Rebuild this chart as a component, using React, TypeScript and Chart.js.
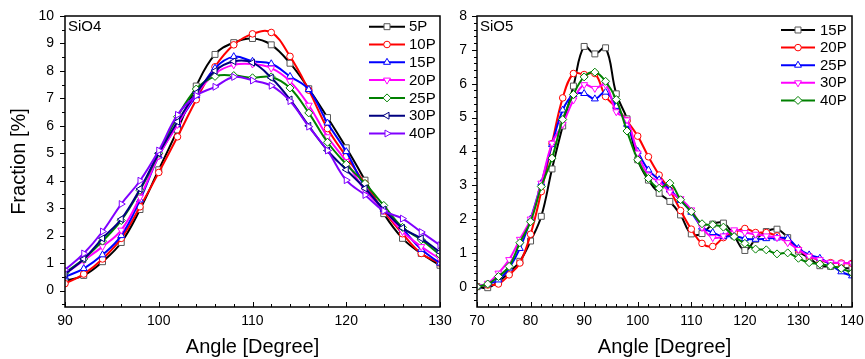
import React, { useEffect, useRef } from 'react';
import { Chart, registerables } from 'chart.js';

Chart.register(...registerables);

const FONT = "'Liberation Sans', Arial, Helvetica, sans-serif";

// ---------------- SiO4 panel data ----------------
const angles4 = [90, 92, 94, 96, 98, 100, 102, 104, 106, 108, 110, 112, 114, 116, 118, 120, 122, 124, 126, 128, 130];
const sio4_5P = [0.35, 0.55, 1.05, 1.75, 2.95, 4.4, 5.85, 7.45, 8.6, 9.03, 9.18, 8.95, 8.28, 7.35, 6.3, 5.2, 4.02, 2.8, 1.9, 1.35, 0.92];
const sio4_10P = [0.25, 0.6, 1.15, 1.9, 3.05, 4.3, 5.6, 6.95, 8.15, 8.95, 9.35, 9.4, 8.53, 7.3, 5.9, 4.88, 3.9, 2.9, 2.07, 1.35, 1.0];
const sio4_15P = [0.5, 0.8, 1.3, 2.0, 3.3, 4.9, 6.05, 7.1, 8.1, 8.52, 8.35, 8.26, 7.8, 7.32, 6.1, 5.06, 3.78, 2.95, 2.25, 1.5, 1.0];
const sio4_20P = [0.6, 1.1, 1.6, 2.2, 3.4, 4.9, 6.05, 7.15, 7.9, 8.22, 8.25, 8.1, 7.62, 6.75, 5.6, 4.7, 3.65, 2.95, 2.15, 1.6, 1.15];
const sio4_25P = [0.65, 1.15, 1.8, 2.55, 3.65, 5.0, 6.33, 7.34, 7.8, 7.83, 7.75, 7.78, 7.38, 6.47, 5.4, 4.6, 3.9, 3.1, 2.3, 1.85, 1.3];
const sio4_30P = [0.6, 1.15, 1.9, 2.6, 3.7, 5.0, 6.15, 7.2, 8.0, 8.35, 8.3, 7.75, 6.96, 6.0, 5.1, 4.4, 3.72, 2.95, 2.28, 1.9, 1.4];
const sio4_40P = [0.75, 1.35, 2.15, 3.15, 4.0, 5.1, 6.4, 7.1, 7.42, 7.78, 7.65, 7.46, 6.9, 5.97, 5.1, 4.02, 3.48, 2.9, 2.62, 2.13, 1.65];
const xTicks4 = [90, 100, 110, 120, 130];
const yTicks4 = [0, 1, 2, 3, 4, 5, 6, 7, 8, 9, 10];

// ---------------- SiO5 panel data ----------------
const angles5 = [70, 72, 74, 76, 78, 80, 82, 84, 86, 88, 90, 92, 94, 96, 98, 100, 102, 104, 106, 108, 110, 112, 114, 116, 118, 120, 122, 124, 126, 128, 130, 132, 134, 136, 138, 140];
const sio5_15P = [0.0, -0.03, 0.15, 0.42, 0.75, 1.35, 2.08, 3.48, 4.75, 5.93, 7.1, 6.88, 7.06, 5.7, 4.96, 3.75, 3.15, 2.76, 2.52, 2.12, 1.56, 1.57, 1.85, 1.88, 1.5, 1.07, 1.4, 1.63, 1.7, 1.45, 1.05, 0.85, 0.62, 0.6, 0.55, 0.55];
const sio5_20P = [0.0, 0.05, 0.08, 0.35, 0.7, 1.55, 2.81, 4.23, 5.58, 6.3, 6.27, 6.3, 5.62, 5.3, 4.9, 4.45, 3.84, 3.3, 2.85, 2.25, 1.7, 1.28, 1.19, 1.45, 1.6, 1.72, 1.6, 1.6, 1.5, 1.35, 1.1, 0.9, 0.78, 0.71, 0.7, 0.69];
const sio5_25P = [0.0, 0.08, 0.2, 0.55, 1.13, 2.0, 3.06, 4.2, 5.22, 5.68, 5.71, 5.55, 5.75, 5.33, 4.8, 4.0, 3.45, 3.16, 2.86, 2.55, 2.2, 1.76, 1.6, 1.48, 1.5, 1.42, 1.4, 1.42, 1.44, 1.42, 1.13, 0.94, 0.84, 0.65, 0.44, 0.32];
const sio5_30P = [0.0, 0.1, 0.4, 0.8, 1.4, 2.0, 3.06, 4.24, 4.8, 5.52, 5.97, 5.86, 5.97, 5.17, 4.93, 3.95, 3.3, 3.1, 2.8, 2.6, 2.27, 1.75, 1.45, 1.5, 1.68, 1.6, 1.55, 1.5, 1.45, 1.3, 1.1, 0.9, 0.8, 0.72, 0.7, 0.69];
const sio5_40P = [0.0, 0.08, 0.3, 0.6, 1.3, 1.92, 2.96, 3.8, 4.94, 5.68, 6.2, 6.34, 6.07, 5.53, 4.6, 3.75, 3.2, 2.91, 3.06, 2.57, 2.22, 1.86, 1.83, 1.76, 1.48, 1.28, 1.11, 1.09, 0.97, 1.0, 0.84, 0.71, 0.67, 0.61, 0.54, 0.41];
const xTicks5 = [70, 80, 90, 100, 110, 120, 130, 140];
const yTicks5 = [0, 1, 2, 3, 4, 5, 6, 7, 8];

// ---------------- styles ----------------
type Mk = { marker: string; rotation: number; radius: number };
const SQUARE: Mk = { marker: 'rect', rotation: 0, radius: 4.2 };
const CIRCLE: Mk = { marker: 'circle', rotation: 0, radius: 3.3 };
const TRI_UP: Mk = { marker: 'triangle', rotation: 0, radius: 4 };
const TRI_DOWN: Mk = { marker: 'triangle', rotation: 180, radius: 4 };
const DIAMOND: Mk = { marker: 'rectRot', rotation: 0, radius: 4 };
const TRI_LEFT: Mk = { marker: 'triangle', rotation: 270, radius: 4 };
const TRI_RIGHT: Mk = { marker: 'triangle', rotation: 90, radius: 4 };

type Series = { label: string; data: number[]; color: string; mk: Mk };

const series4: Series[] = [
  { label: '5P', data: sio4_5P, color: '#000000', mk: SQUARE },
  { label: '10P', data: sio4_10P, color: '#ff0000', mk: CIRCLE },
  { label: '15P', data: sio4_15P, color: '#0000ff', mk: TRI_UP },
  { label: '20P', data: sio4_20P, color: '#ff00ff', mk: TRI_DOWN },
  { label: '25P', data: sio4_25P, color: '#008000', mk: DIAMOND },
  { label: '30P', data: sio4_30P, color: '#000080', mk: TRI_LEFT },
  { label: '40P', data: sio4_40P, color: '#8000ff', mk: TRI_RIGHT },
];

const series5: Series[] = [
  { label: '15P', data: sio5_15P, color: '#000000', mk: SQUARE },
  { label: '20P', data: sio5_20P, color: '#ff0000', mk: CIRCLE },
  { label: '25P', data: sio5_25P, color: '#0000ff', mk: TRI_UP },
  { label: '30P', data: sio5_30P, color: '#ff00ff', mk: TRI_DOWN },
  { label: '40P', data: sio5_40P, color: '#008000', mk: DIAMOND },
];

function markerColor(c: string) {
  return c === '#000000' ? '#555555' : c;
}

function drawMarker(ctx: CanvasRenderingContext2D, mk: Mk, x: number, y: number) {
  const r = mk.radius;
  ctx.beginPath();
  if (mk.marker === 'rect') {
    const s = r * Math.SQRT1_2;
    ctx.rect(x - s, y - s, 2 * s, 2 * s);
  } else if (mk.marker === 'circle') {
    ctx.arc(x, y, r, 0, Math.PI * 2);
  } else if (mk.marker === 'rectRot') {
    ctx.moveTo(x, y - r);
    ctx.lineTo(x + r, y);
    ctx.lineTo(x, y + r);
    ctx.lineTo(x - r, y);
    ctx.closePath();
  } else {
    let rad = (mk.rotation * Math.PI) / 180;
    ctx.moveTo(x + Math.sin(rad) * r, y - Math.cos(rad) * r);
    rad += (2 * Math.PI) / 3;
    ctx.lineTo(x + Math.sin(rad) * r, y - Math.cos(rad) * r);
    rad += (2 * Math.PI) / 3;
    ctx.lineTo(x + Math.sin(rad) * r, y - Math.cos(rad) * r);
    ctx.closePath();
  }
  ctx.fillStyle = '#ffffff';
  ctx.fill();
  ctx.stroke();
}

type PanelCfg = {
  width: number;
  height: number;
  left: number;
  xs: number[];
  series: Series[];
  xMin: number;
  xMax: number;
  yMin: number;
  yMax: number;
  xTicks: number[];
  yTicks: number[];
  xMinorStep: number;
  yMinorStep: number;
  axisWidth: number;
  padRight: number;
  yTitle: string | null;
  tag: string;
  legend: { x0: number; x1: number; tx: number; y0: number; dy: number };
};

function makeDecor(cfg: PanelCfg) {
  return {
    id: 'panelDecor',
    afterDraw(chart: any) {
      const ctx: CanvasRenderingContext2D = chart.ctx;
      const { left, top, right, bottom } = chart.chartArea;
      const xs = chart.scales.x;
      const ys = chart.scales.y;
      ctx.save();
      ctx.strokeStyle = '#000';
      ctx.lineWidth = 1;
      ctx.beginPath();
      // x ticks (inward)
      const nx = Math.round((cfg.xMax - cfg.xMin) / cfg.xMinorStep);
      for (let i = 0; i <= nx; i++) {
        const v = cfg.xMin + i * cfg.xMinorStep;
        const major = cfg.xTicks.some((t) => Math.abs(t - v) < 1e-6);
        const px = Math.round(xs.getPixelForValue(v)) + 0.5;
        ctx.moveTo(px, bottom);
        ctx.lineTo(px, bottom - (major ? 5 : 3));
      }
      // y ticks (outward)
      const y0 = cfg.yTicks[0] - cfg.yMinorStep * Math.floor((cfg.yTicks[0] - cfg.yMin) / cfg.yMinorStep);
      const ny = Math.round((cfg.yMax - y0) / cfg.yMinorStep);
      for (let i = 0; i <= ny; i++) {
        const v = y0 + i * cfg.yMinorStep;
        const major = cfg.yTicks.some((t) => Math.abs(t - v) < 1e-6);
        const py = Math.round(ys.getPixelForValue(v)) + 0.5;
        ctx.moveTo(left, py);
        ctx.lineTo(left - (major ? 5 : 3), py);
      }
      ctx.stroke();
      // frame
      ctx.lineWidth = 1.5;
      ctx.strokeRect(left, top, right - left, bottom - top);
      // panel tag
      ctx.fillStyle = '#000';
      ctx.font = `15px ${FONT}`;
      ctx.textBaseline = 'middle';
      ctx.textAlign = 'left';
      ctx.fillText(cfg.tag, left + 3, top + 11);
      // legend
      const lg = cfg.legend;
      cfg.series.forEach((s, i) => {
        const y = lg.y0 + i * lg.dy;
        ctx.strokeStyle = s.color;
        ctx.lineWidth = 2;
        ctx.beginPath();
        ctx.moveTo(lg.x0, y);
        ctx.lineTo(lg.x1, y);
        ctx.stroke();
        ctx.lineWidth = 1;
        ctx.strokeStyle = markerColor(s.color);
        drawMarker(ctx, s.mk, (lg.x0 + lg.x1) / 2, y);
        ctx.fillStyle = '#000';
        ctx.fillText(s.label, lg.tx, y + 0.5);
      });
      ctx.restore();
    },
  };
}

function Panel({ cfg }: { cfg: PanelCfg }) {
  const ref = useRef<HTMLCanvasElement | null>(null);
  useEffect(() => {
    if (!ref.current) return;
    const n = cfg.series.length;
    const chart = new Chart(ref.current, {
      type: 'line',
      data: {
        datasets: cfg.series.map((s, i) => ({
          label: s.label,
          data: cfg.xs.map((x, j) => ({ x, y: s.data[j] })),
          borderColor: s.color,
          borderWidth: 2,
          backgroundColor: '#ffffff',
          pointStyle: s.mk.marker as any,
          pointRotation: s.mk.rotation,
          pointRadius: s.mk.radius,
          pointBorderColor: markerColor(s.color),
          pointBackgroundColor: '#ffffff',
          pointBorderWidth: 1,
          tension: 0.4,
          fill: false,
          order: n - i,
        })),
      },
      options: {
        animation: false,
        responsive: false,
        devicePixelRatio: 1,
        layout: { padding: { left: 0, top: 16, right: cfg.padRight, bottom: 0 } },
        plugins: { legend: { display: false }, tooltip: { enabled: false } },
        scales: {
          x: {
            type: 'linear',
            min: cfg.xMin,
            max: cfg.xMax,
            grid: { display: false, drawTicks: false },
            border: { display: false },
            ticks: { font: { size: 14, family: FONT }, color: '#000', padding: 6, maxRotation: 0 },
            afterBuildTicks: (scale: any) => {
              scale.ticks = cfg.xTicks.map((v) => ({ value: v }));
            },
            afterFit: (scale: any) => {
              scale.height = 52;
              scale.paddingLeft = 0;
              scale.paddingRight = 0;
            },
            title: {
              display: true,
              text: 'Angle [Degree]',
              font: { size: 20, family: FONT },
              color: '#000',
              padding: { top: 0, bottom: 0 },
            },
          },
          y: {
            type: 'linear',
            min: cfg.yMin,
            max: cfg.yMax,
            grid: { display: false, drawTicks: false },
            border: { display: false },
            ticks: { font: { size: 14, family: FONT }, color: '#000', padding: cfg.yTitle ? 11 : 10 },
            afterBuildTicks: (scale: any) => {
              scale.ticks = cfg.yTicks.map((v) => ({ value: v }));
            },
            afterFit: (scale: any) => {
              scale.width = cfg.axisWidth;
              scale.paddingTop = 0;
              scale.paddingBottom = 0;
            },
            title: {
              display: !!cfg.yTitle,
              text: cfg.yTitle || '',
              font: { size: 20, family: FONT },
              color: '#000',
              padding: { top: 7, bottom: 0 },
            },
          },
        },
      } as any,
      plugins: [makeDecor(cfg)],
    });
    return () => chart.destroy();
  }, [cfg]);
  return (
    <canvas
      ref={ref}
      width={cfg.width}
      height={cfg.height}
      style={{ position: 'absolute', left: cfg.left, top: 0, width: cfg.width, height: cfg.height }}
    />
  );
}

const cfg4: PanelCfg = {
  width: 452,
  height: 359,
  left: 0,
  xs: angles4,
  series: series4,
  xMin: 90,
  xMax: 130,
  yMin: -0.6,
  yMax: 10,
  xTicks: xTicks4,
  yTicks: yTicks4,
  xMinorStep: 2,
  yMinorStep: 0.5,
  axisWidth: 65,
  padRight: 12,
  yTitle: 'Fraction [%]',
  tag: 'SiO4',
  legend: { x0: 369, x1: 405, tx: 409, y0: 26.7, dy: 17.8 },
};

const cfg5: PanelCfg = {
  width: 413,
  height: 359,
  left: 452,
  xs: angles5,
  series: series5,
  xMin: 70,
  xMax: 140,
  yMin: -0.6,
  yMax: 8,
  xTicks: xTicks5,
  yTicks: yTicks5,
  xMinorStep: 2,
  yMinorStep: 0.2,
  axisWidth: 25,
  padRight: 13,
  yTitle: null,
  tag: 'SiO5',
  legend: { x0: 329, x1: 363, tx: 368, y0: 30, dy: 17.6 },
};

export default function App() {
  return (
    <div style={{ position: 'absolute', left: 0, top: 0, width: 865, height: 359, background: '#ffffff', overflow: 'hidden' }}>
      <Panel cfg={cfg4} />
      <Panel cfg={cfg5} />
    </div>
  );
}
